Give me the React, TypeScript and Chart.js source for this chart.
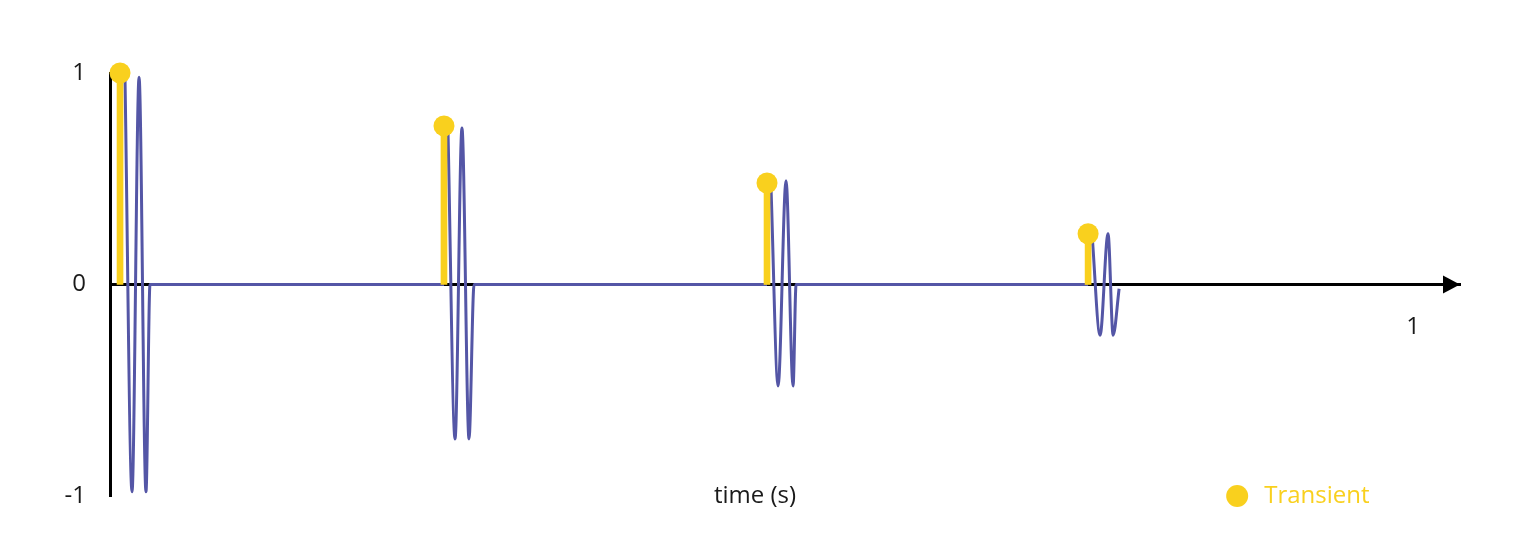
import { useEffect, useRef } from 'react';
import { Chart, registerables } from 'chart.js';

Chart.register(...registerables);

// transient onsets (s) and their peak amplitude
const transientTimes = [0.0077, 0.2563, 0.5042, 0.7506];
const transientAmps = [1, 0.75, 0.48, 0.24];

// ringing wave after each transient, then flat until the next one (null = gap)
const waveTimes = [
  0.0115, 0.0169, 0.0223, 0.0276, 0.0307, 0.2563, 0.2563,
  0.2594, 0.2648, 0.2701, 0.2755, 0.2794, 0.5042, 0.5042,
  0.5073, 0.5127, 0.5188, 0.5242, 0.5265, 0.7506, 0.7506,
  0.7536, 0.7598, 0.7659, 0.7698, 0.7744,
];
const waveValues = [
  0.98, -0.98, 0.98, -0.98, 0, 0, null,
  0.72, -0.73, 0.74, -0.73, 0, 0, null,
  0.45, -0.48, 0.49, -0.48, 0, 0, null,
  0.24, -0.24, 0.24, -0.24, -0.02,
];

const yTickValues = [-1, 0, 1];
const xTickValues = [1];
const xMax = 1.036;
const xCaption = 'time (s)';
const xCaptionAt = 0.495;
const legendAt = 0.865;

const FONT = '"Open Sans", "Noto Sans", sans-serif';
const YELLOW = '#F9D01E';
const BLUE = '#5456A6';
const INK = '#1a1a1a';

const decorations = {
  id: 'decorations',
  afterDraw(chart: any) {
    const { ctx, chartArea, scales } = chart;
    const x = scales.x;
    const y0 = scales.y.getPixelForValue(0);
    ctx.save();

    // arrow head at the end of the time axis
    ctx.fillStyle = '#000';
    ctx.beginPath();
    ctx.moveTo(chartArea.right, y0);
    ctx.lineTo(chartArea.right - 17, y0 - 9);
    ctx.lineTo(chartArea.right - 17, y0 + 9);
    ctx.closePath();
    ctx.fill();

    // axis caption
    ctx.font = `24px ${FONT}`;
    ctx.textBaseline = 'middle';
    ctx.textAlign = 'center';
    ctx.fillStyle = INK;
    ctx.fillText(xCaption, x.getPixelForValue(xCaptionAt), chartArea.bottom);

    // legend for the transient markers
    const ds = chart.data.datasets.find((d: any) => d.label);
    if (ds) {
      const lx = x.getPixelForValue(legendAt);
      const ly = chartArea.bottom;
      ctx.fillStyle = ds.backgroundColor;
      ctx.beginPath();
      ctx.arc(lx, ly, 11, 0, Math.PI * 2);
      ctx.fill();
      ctx.textAlign = 'left';
      ctx.fillText(ds.label, lx + 27, ly);
    }
    ctx.restore();
  },
};

export default function App() {
  const canvasRef = useRef<HTMLCanvasElement>(null);

  useEffect(() => {
    if (!canvasRef.current) return;

    const stems = transientTimes.map((t, i) => ({ x: t, y: transientAmps[i] }));
    const wave = waveTimes.map((t, i) => ({ x: t, y: waveValues[i] }));

    const chart = new Chart(canvasRef.current, {
      type: 'line',
      data: {
        datasets: [
          {
            type: 'scatter',
            label: 'Transient',
            data: stems,
            backgroundColor: YELLOW,
            pointBackgroundColor: YELLOW,
            pointBorderWidth: 0,
            pointRadius: 10.5,
            clip: false,
            order: 0,
          },
          {
            type: 'bar',
            data: stems,
            backgroundColor: YELLOW,
            borderWidth: 0,
            barThickness: 6,
            order: 1,
          },
          {
            type: 'line',
            data: wave,
            borderColor: BLUE,
            borderWidth: 3,
            pointRadius: 0,
            cubicInterpolationMode: 'monotone',
            spanGaps: false,
            clip: false,
            order: 2,
          },
        ],
      } as any,
      options: {
        animation: false,
        responsive: true,
        maintainAspectRatio: false,
        layout: { padding: { top: 73, right: 76, bottom: 52, left: 0 } },
        plugins: {
          legend: { display: false },
          tooltip: { enabled: false },
        },
        scales: {
          x: {
            type: 'linear',
            min: 0,
            max: xMax,
            offset: false,
            position: { y: 0 },
            grid: { display: false },
            border: { display: true, color: '#000', width: 3 },
            afterBuildTicks: (s: any) => {
              s.ticks = xTickValues.map((value) => ({ value }));
            },
            ticks: {
              color: INK,
              padding: 20,
              maxRotation: 0,
              font: { family: FONT, size: 24 },
            },
          },
          y: {
            type: 'linear',
            min: -1,
            max: 1,
            grid: { display: false },
            border: { display: true, color: '#000', width: 3 },
            afterBuildTicks: (s: any) => {
              s.ticks = yTickValues.map((value) => ({ value }));
            },
            afterFit: (s: any) => {
              s.width = 110;
            },
            ticks: {
              color: INK,
              padding: 16,
              font: { family: FONT, size: 24 },
            },
          },
        },
      } as any,
      plugins: [decorations],
    });

    return () => chart.destroy();
  }, []);

  return (
    <div style={{ position: 'fixed', left: 0, top: 0, width: 1536, height: 548, background: '#fff' }}>
      <canvas ref={canvasRef} />
    </div>
  );
}
